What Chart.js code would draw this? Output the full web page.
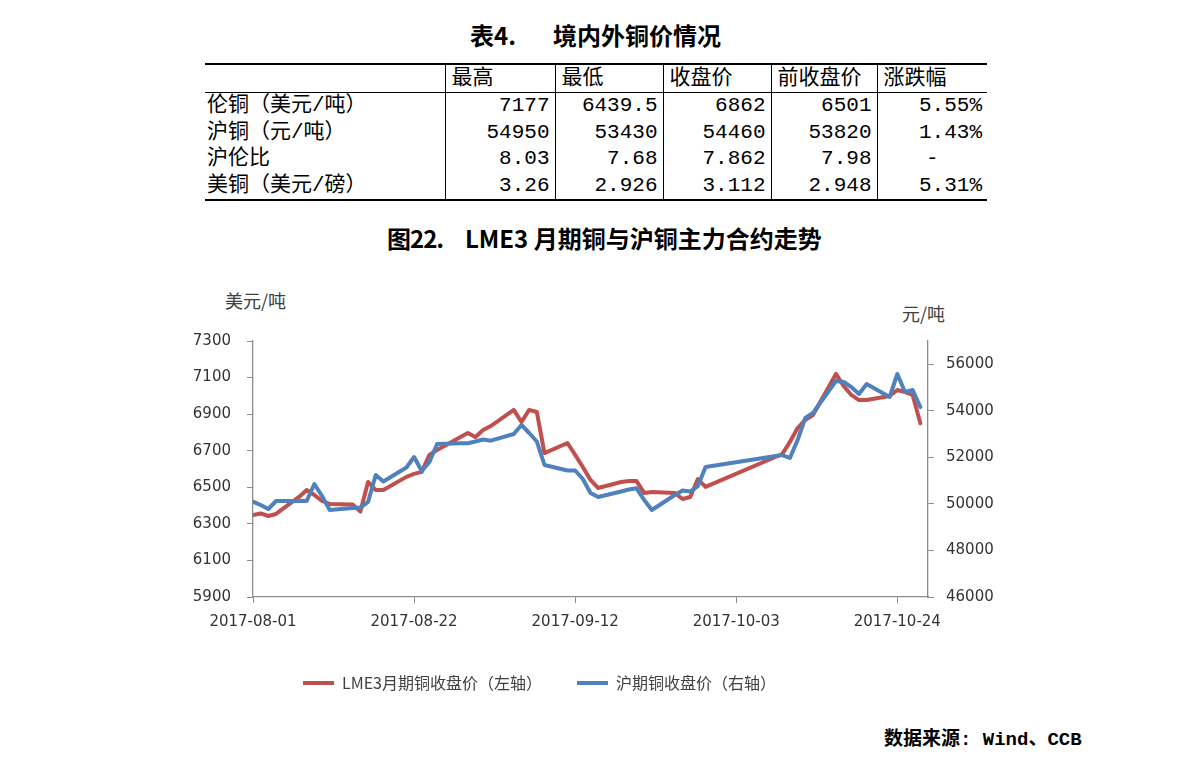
<!DOCTYPE html>
<html>
<head>
<meta charset="utf-8">
<script src="https://cdn.jsdelivr.net/npm/chart.js@4.4.1/dist/chart.umd.min.js"></script>
<style>
html,body{margin:0;padding:0;background:#fff;}
body{width:1191px;height:766px;overflow:hidden;position:relative;font-family:"Noto Sans CJK SC",sans-serif;color:#000;}
.t{position:absolute;white-space:nowrap;}
.ttl{font-weight:700;font-size:24px;line-height:30px;}
#tb{position:absolute;left:205px;top:63px;width:782px;border-collapse:collapse;table-layout:fixed;font-family:"Liberation Mono","Noto Sans CJK SC",monospace;font-size:21px;color:#000;}
#tb th,#tb td{padding:0;white-space:nowrap;overflow:visible;}
#tb th{height:27px;line-height:27px;font-weight:normal;text-align:left;padding-left:6px;}
#tb td{height:26.5px;line-height:26.5px;text-align:right;padding-right:5px;}
#tb td:first-child{text-align:left;padding-left:2px;padding-right:0;}
#tb td.c{text-align:center;padding-right:0;}
#tb thead tr{border-top:2px solid #000;border-bottom:1px solid #000;}
#tb tbody tr:last-child{border-bottom:2px solid #000;}
#tb th+th,#tb td+td{border-left:1px solid #000;}
.unit{font-size:18px;line-height:22px;color:#404040;}
#c{position:absolute;left:0;top:260px;}
#src{left:884px;top:724px;font-size:19px;line-height:26px;font-weight:700;}
#src .m{font-family:"Liberation Mono","Noto Sans CJK SC",monospace;}
</style>
</head>
<body>
<div class="t ttl" style="left:470px;top:20px;">表4.</div>
<div class="t ttl" style="left:553px;top:20px;">境内外铜价情况</div>

<table id="tb">
<colgroup><col style="width:240px"><col style="width:110px"><col style="width:108px"><col style="width:108px"><col style="width:106px"><col style="width:110px"></colgroup>
<thead><tr id="hdr"></tr></thead>
<tbody id="tbody"></tbody>
</table>

<div class="t ttl" style="left:387px;top:223px;letter-spacing:-1px;">图22.</div>
<div class="t ttl" style="left:465px;top:223px;">LME3 月期铜与沪铜主力合约走势</div>

<div class="t unit" style="left:225px;top:289px;">美元/吨</div>
<div class="t unit" style="left:902px;top:302px;">元/吨</div>

<canvas id="c" width="1191" height="460"></canvas>

<div class="t" id="src">数据来源<span class="m">: Wind</span>、<span class="m">CCB</span></div>

<script>
// ---------- table data ----------
const tableHeaders = ["", "最高", "最低", "收盘价", "前收盘价", "涨跌幅"];
const tableRowNames = ["伦铜（美元/吨）", "沪铜（元/吨）", "沪伦比", "美铜（美元/磅）"];
const tableHigh = ["7177", "54950", "8.03", "3.26"];
const tableLow = ["6439.5", "53430", "7.68", "2.926"];
const tableClose = ["6862", "54460", "7.862", "3.112"];
const tablePrevClose = ["6501", "53820", "7.98", "2.948"];
const tableChange = ["5.55%", "1.43%", "-", "5.31%"];

// ---------- chart data ----------
const categories = [
 "2017-08-01","2017-08-02","2017-08-03","2017-08-04",
 "2017-08-07","2017-08-08","2017-08-09","2017-08-10","2017-08-11",
 "2017-08-14","2017-08-15","2017-08-16","2017-08-17","2017-08-18",
 "2017-08-21","2017-08-22","2017-08-23","2017-08-24","2017-08-25",
 "2017-08-28","2017-08-29","2017-08-30","2017-08-31","2017-09-01",
 "2017-09-04","2017-09-05","2017-09-06","2017-09-07","2017-09-08",
 "2017-09-11","2017-09-12","2017-09-13","2017-09-14","2017-09-15",
 "2017-09-18","2017-09-19","2017-09-20","2017-09-21","2017-09-22",
 "2017-09-25","2017-09-26","2017-09-27","2017-09-28","2017-09-29",
 "2017-10-09","2017-10-10","2017-10-11","2017-10-12","2017-10-13",
 "2017-10-16","2017-10-17","2017-10-18","2017-10-19","2017-10-20",
 "2017-10-23","2017-10-24","2017-10-25","2017-10-26","2017-10-27"
];
const lmeClose = [
 6348,6357,6343,6354,
 6447,6485,6458,6425,6409,
 6406,6367,6529,6485,6485,
 6557,6573,6584,6677,6704,
 null,6797,6775,6813,6835,
 6923,6857,6923,6912,6687,
 6742,6677,6611,6540,6496,
 6529,6534,6534,6469,6474,
 6469,6436,6447,6545,6502,
 6682,6748,6824,6868,6895,
 7120,7054,7005,6977,6977,
 6999,7032,7021,7005,6850
];
const shfeClose = [
 50095,49953,49781,50125,
 50125,50125,50855,50340,49738,
 49824,49845,50082,51242,50963,
 51564,52015,51414,51801,52574,
 52604,52604,52682,52767,52716,
 53004,53391,53047,52682,51672,
 51435,51435,51070,50469,50297,
 50533,50619,50671,50168,49738,
 50383,50576,50533,50769,51586,
 52101,51973,52746,53691,53906,
 55281,55238,55023,54723,55152,
 54594,55582,54809,54894,54164
];
const seriesNames = ["LME3月期铜收盘价（左轴）", "沪期铜收盘价（右轴）"];
const xTickLabels = ["2017-08-01","2017-08-22","2017-09-12","2017-10-03","2017-10-24"];
const xAxisEnd = "2017-10-28";
const leftTicks = [5900,6100,6300,6500,6700,6900,7100,7300];
const rightTicks = [46000,48000,50000,52000,54000,56000];
const rightAxisMax = 57000;

// ---------- build table ----------
const hdr = document.getElementById('hdr');
tableHeaders.forEach(h => { const th = document.createElement('th'); th.textContent = h; hdr.appendChild(th); });
const tbody = document.getElementById('tbody');
tableRowNames.forEach((name, i) => {
  const tr = document.createElement('tr');
  [name, tableHigh[i], tableLow[i], tableClose[i], tablePrevClose[i], tableChange[i]].forEach((v, j) => {
    const td = document.createElement('td');
    td.textContent = v;
    if (j === 5 && v === '-') td.className = 'c';
    tr.appendChild(td);
  });
  tbody.appendChild(tr);
});

// ---------- chart ----------
const base = Date.parse(xTickLabels[0]);
const dayOf = s => Math.round((Date.parse(s) - base) / 86400000);
const labelOf = v => new Date(base + v * 86400000).toISOString().slice(0, 10);

const axisGray = '#8c8c8c';
const tickFont = {family: 'DejaVu Sans', size: 15};
const tickColor = '#333333';
const padRight = 112;

new Chart(document.getElementById('c'), {
  type: 'line',
  data: {
    datasets: [
      {
        label: seriesNames[0],
        data: categories.map((d, i) => ({x: dayOf(d), y: lmeClose[i]})),
        yAxisID: 'yL', order: 1,
        borderColor: '#C0504D', backgroundColor: '#C0504D',
        borderWidth: 4, pointRadius: 0, tension: 0, spanGaps: true,
        borderJoinStyle: 'round', borderCapStyle: 'round'
      },
      {
        label: seriesNames[1],
        data: categories.map((d, i) => ({x: dayOf(d), y: shfeClose[i]})),
        yAxisID: 'yR', order: 0,
        borderColor: '#4F81BD', backgroundColor: '#4F81BD',
        borderWidth: 4, pointRadius: 0, tension: 0, spanGaps: true,
        borderJoinStyle: 'round', borderCapStyle: 'round'
      }
    ]
  },
  options: {
    responsive: false,
    animation: false,
    devicePixelRatio: 1,
    layout: {padding: {top: 81, bottom: 19, left: 0, right: padRight}},
    plugins: {
      tooltip: {enabled: false},
      legend: {
        position: 'bottom',
        labels: {
          usePointStyle: true, pointStyle: 'line', pointStyleWidth: 31,
          padding: 35, color: '#404040',
          font: {family: 'Noto Sans CJK SC', size: 16},
          sort: (a, b) => a.datasetIndex - b.datasetIndex
        }
      }
    },
    scales: {
      x: {
        type: 'linear', min: dayOf(xTickLabels[0]), max: dayOf(xAxisEnd),
        afterBuildTicks: s => { s.ticks = xTickLabels.map(l => ({value: dayOf(l)})); },
        afterFit: s => { s.height = 43; },
        ticks: {callback: v => labelOf(v), font: tickFont, color: tickColor, padding: 10, maxRotation: 0, autoSkip: false},
        grid: {drawOnChartArea: false, drawTicks: true, tickLength: 6, color: axisGray, lineWidth: 1},
        border: {color: axisGray, width: 1.3}
      },
      yL: {
        position: 'left', min: leftTicks[0], max: leftTicks[leftTicks.length - 1],
        afterBuildTicks: s => { s.ticks = leftTicks.map(v => ({value: v})); },
        afterFit: s => { s.width = 253; },
        ticks: {font: tickFont, color: tickColor, padding: 16, callback: v => String(v)},
        grid: {drawOnChartArea: false, drawTicks: true, tickLength: 6, color: axisGray, lineWidth: 1},
        border: {color: axisGray, width: 1.3}
      },
      yR: {
        position: 'right', min: rightTicks[0], max: rightAxisMax,
        afterBuildTicks: s => { s.ticks = rightTicks.map(v => ({value: v})); },
        afterFit: s => { s.width = 1191 - padRight - 928; },
        ticks: {font: tickFont, color: tickColor, padding: 12, callback: v => String(v)},
        grid: {drawOnChartArea: false, drawTicks: true, tickLength: 6, color: axisGray, lineWidth: 1},
        border: {color: axisGray, width: 1.3}
      }
    }
  }
});
</script>
</body>
</html>
